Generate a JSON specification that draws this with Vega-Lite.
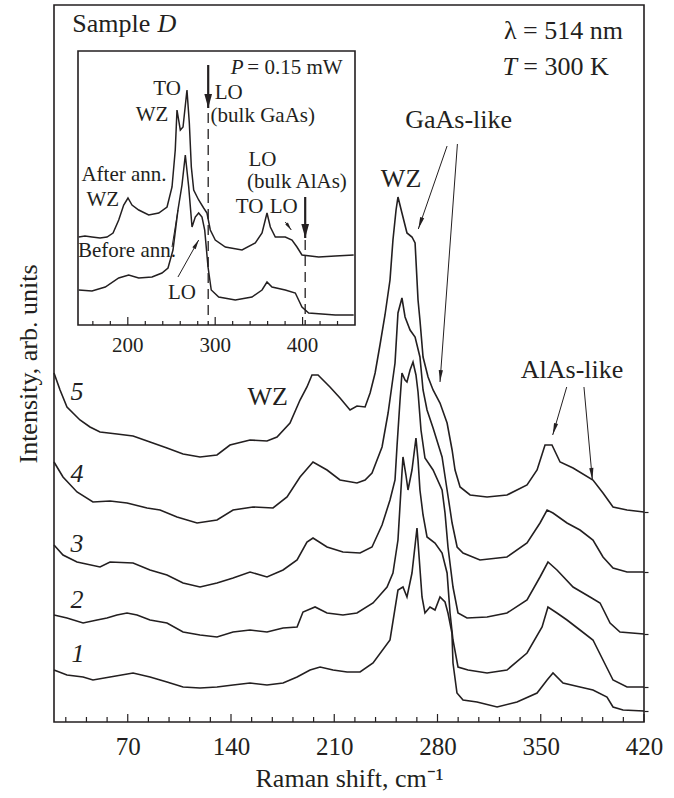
{
"$schema": "https://vega.github.io/schema/vega-lite/v6.json",
"width": 590, "height": 717,
"autosize": "none",
"padding": {"left": 54, "top": 5, "right": 30, "bottom": 76},
"background": "white",
"config": {
  "font": "Liberation Serif",
  "view": {"stroke": "#231f20", "strokeWidth": 1.6},
  "axis": {"labelFont": "Liberation Serif", "titleFont": "Liberation Serif", "labelColor": "#231f20", "titleColor": "#231f20", "tickColor": "#231f20", "domainColor": "#231f20", "titleFontWeight": "normal", "grid": false}
},
"datasets": {
  "spectra": [
    {"curve":"5","shift":20,"intensity":349},{"curve":"5","shift":24.1,"intensity":332},{"curve":"5","shift":28.8,"intensity":315},{"curve":"5","shift":37.6,"intensity":302},{"curve":"5","shift":44.4,"intensity":295},{"curve":"5","shift":51.2,"intensity":290},{"curve":"5","shift":62.7,"intensity":288},{"curve":"5","shift":73.6,"intensity":286},{"curve":"5","shift":85.1,"intensity":280},{"curve":"5","shift":96.6,"intensity":274},{"curve":"5","shift":107.5,"intensity":268},{"curve":"5","shift":119,"intensity":265},{"curve":"5","shift":130.5,"intensity":267},{"curve":"5","shift":139.3,"intensity":277},{"curve":"5","shift":152.9,"intensity":282},{"curve":"5","shift":164.4,"intensity":281},{"curve":"5","shift":171.2,"intensity":285},{"curve":"5","shift":180,"intensity":299},{"curve":"5","shift":186.8,"intensity":322},{"curve":"5","shift":191.5,"intensity":335},{"curve":"5","shift":194.9,"intensity":347},{"curve":"5","shift":199,"intensity":347},{"curve":"5","shift":207.1,"intensity":335},{"curve":"5","shift":213.9,"intensity":324},{"curve":"5","shift":220.7,"intensity":312},{"curve":"5","shift":225.4,"intensity":316},{"curve":"5","shift":230.9,"intensity":315},{"curve":"5","shift":234.3,"intensity":329},{"curve":"5","shift":237.7,"intensity":349},{"curve":"5","shift":241,"intensity":377},{"curve":"5","shift":244.4,"intensity":407},{"curve":"5","shift":247.8,"intensity":442},{"curve":"5","shift":249.8,"intensity":482},{"curve":"5","shift":251.9,"intensity":512},{"curve":"5","shift":253.2,"intensity":525},{"curve":"5","shift":255.9,"intensity":509},{"curve":"5","shift":259.3,"intensity":489},{"curve":"5","shift":262.7,"intensity":485},{"curve":"5","shift":264.8,"intensity":479},{"curve":"5","shift":266.8,"intensity":422},{"curve":"5","shift":268.1,"intensity":402},{"curve":"5","shift":270.2,"intensity":365},{"curve":"5","shift":273.6,"intensity":345},{"curve":"5","shift":277,"intensity":332},{"curve":"5","shift":281.7,"intensity":319},{"curve":"5","shift":286.5,"intensity":299},{"curve":"5","shift":289.9,"intensity":272},{"curve":"5","shift":291.9,"intensity":252},{"curve":"5","shift":295.3,"intensity":235},{"curve":"5","shift":302.1,"intensity":227},{"curve":"5","shift":313.6,"intensity":225},{"curve":"5","shift":327.1,"intensity":227},{"curve":"5","shift":340.7,"intensity":237},{"curve":"5","shift":347.5,"intensity":252},{"curve":"5","shift":352.9,"intensity":277},{"curve":"5","shift":357.6,"intensity":277},{"curve":"5","shift":363.1,"intensity":260},{"curve":"5","shift":371.9,"intensity":254},{"curve":"5","shift":385.4,"intensity":242},{"curve":"5","shift":392.2,"intensity":229},{"curve":"5","shift":399,"intensity":215},{"curve":"5","shift":408.5,"intensity":212},{"curve":"5","shift":420,"intensity":210},
    {"curve":"4","shift":20,"intensity":260},{"curve":"4","shift":26.1,"intensity":245},{"curve":"4","shift":35.6,"intensity":230},{"curve":"4","shift":46.4,"intensity":220},{"curve":"4","shift":58,"intensity":221},{"curve":"4","shift":69.5,"intensity":219},{"curve":"4","shift":83.1,"intensity":214},{"curve":"4","shift":91.9,"intensity":212},{"curve":"4","shift":103.4,"intensity":205},{"curve":"4","shift":117,"intensity":199},{"curve":"4","shift":130.5,"intensity":202},{"curve":"4","shift":141.4,"intensity":212},{"curve":"4","shift":154.9,"intensity":215},{"curve":"4","shift":168.5,"intensity":214},{"curve":"4","shift":178,"intensity":225},{"curve":"4","shift":186.8,"intensity":245},{"curve":"4","shift":195.6,"intensity":260},{"curve":"4","shift":205.1,"intensity":252},{"curve":"4","shift":213.9,"intensity":242},{"curve":"4","shift":225.4,"intensity":239},{"curve":"4","shift":230.9,"intensity":242},{"curve":"4","shift":235.6,"intensity":249},{"curve":"4","shift":242.4,"intensity":275},{"curve":"4","shift":246.5,"intensity":309},{"curve":"4","shift":251.2,"intensity":359},{"curve":"4","shift":253.2,"intensity":409},{"curve":"4","shift":255.9,"intensity":424},{"curve":"4","shift":258,"intensity":405},{"curve":"4","shift":261.4,"intensity":392},{"curve":"4","shift":264.8,"intensity":385},{"curve":"4","shift":268.1,"intensity":365},{"curve":"4","shift":270.2,"intensity":332},{"curve":"4","shift":272.9,"intensity":312},{"curve":"4","shift":277,"intensity":294},{"curve":"4","shift":283.1,"intensity":265},{"curve":"4","shift":286.5,"intensity":232},{"curve":"4","shift":289.9,"intensity":199},{"curve":"4","shift":293.3,"intensity":175},{"curve":"4","shift":297.3,"intensity":169},{"curve":"4","shift":308.8,"intensity":162},{"curve":"4","shift":327.1,"intensity":165},{"curve":"4","shift":340.7,"intensity":179},{"curve":"4","shift":349.5,"intensity":199},{"curve":"4","shift":354.3,"intensity":212},{"curve":"4","shift":358.3,"intensity":209},{"curve":"4","shift":367.8,"intensity":199},{"curve":"4","shift":376.6,"intensity":192},{"curve":"4","shift":385.4,"intensity":182},{"curve":"4","shift":392.2,"intensity":165},{"curve":"4","shift":399,"intensity":154},{"curve":"4","shift":408.5,"intensity":150},{"curve":"4","shift":420,"intensity":150},
    {"curve":"3","shift":20,"intensity":177},{"curve":"3","shift":26.1,"intensity":167},{"curve":"3","shift":35.6,"intensity":160},{"curve":"3","shift":51.2,"intensity":155},{"curve":"3","shift":58,"intensity":160},{"curve":"3","shift":73.6,"intensity":159},{"curve":"3","shift":85.1,"intensity":152},{"curve":"3","shift":96.6,"intensity":147},{"curve":"3","shift":107.5,"intensity":139},{"curve":"3","shift":119,"intensity":135},{"curve":"3","shift":130.5,"intensity":139},{"curve":"3","shift":141.4,"intensity":144},{"curve":"3","shift":152.9,"intensity":150},{"curve":"3","shift":164.4,"intensity":145},{"curve":"3","shift":175.3,"intensity":152},{"curve":"3","shift":184.8,"intensity":162},{"curve":"3","shift":191.5,"intensity":180},{"curve":"3","shift":195.6,"intensity":184},{"curve":"3","shift":205.1,"intensity":175},{"curve":"3","shift":215.9,"intensity":170},{"curve":"3","shift":227.5,"intensity":169},{"curve":"3","shift":235.6,"intensity":175},{"curve":"3","shift":242.4,"intensity":197},{"curve":"3","shift":247.8,"intensity":222},{"curve":"3","shift":251.2,"intensity":242},{"curve":"3","shift":252.6,"intensity":277},{"curve":"3","shift":254.6,"intensity":322},{"curve":"3","shift":255.9,"intensity":349},{"curve":"3","shift":258,"intensity":342},{"curve":"3","shift":259.3,"intensity":340},{"curve":"3","shift":261.4,"intensity":352},{"curve":"3","shift":263.4,"intensity":360},{"curve":"3","shift":265.4,"intensity":347},{"curve":"3","shift":266.8,"intensity":330},{"curve":"3","shift":268.8,"intensity":292},{"curve":"3","shift":271.5,"intensity":264},{"curve":"3","shift":277,"intensity":252},{"curve":"3","shift":283.1,"intensity":232},{"curve":"3","shift":285.1,"intensity":209},{"curve":"3","shift":287.1,"intensity":175},{"curve":"3","shift":290.5,"intensity":135},{"curve":"3","shift":293.9,"intensity":109},{"curve":"3","shift":300,"intensity":104},{"curve":"3","shift":313.6,"intensity":105},{"curve":"3","shift":327.1,"intensity":109},{"curve":"3","shift":340.7,"intensity":122},{"curve":"3","shift":349.5,"intensity":145},{"curve":"3","shift":354.9,"intensity":160},{"curve":"3","shift":361,"intensity":152},{"curve":"3","shift":371.9,"intensity":135},{"curve":"3","shift":383.4,"intensity":125},{"curve":"3","shift":390.2,"intensity":119},{"curve":"3","shift":397,"intensity":99},{"curve":"3","shift":403.7,"intensity":90},{"curve":"3","shift":420,"intensity":88},
    {"curve":"2","shift":20,"intensity":107},{"curve":"2","shift":28.8,"intensity":104},{"curve":"2","shift":39.7,"intensity":99},{"curve":"2","shift":49.2,"intensity":102},{"curve":"2","shift":55.9,"intensity":104},{"curve":"2","shift":62.7,"intensity":107},{"curve":"2","shift":69.5,"intensity":109},{"curve":"2","shift":76.3,"intensity":107},{"curve":"2","shift":85.1,"intensity":102},{"curve":"2","shift":96.6,"intensity":99},{"curve":"2","shift":107.5,"intensity":90},{"curve":"2","shift":119,"intensity":87},{"curve":"2","shift":130.5,"intensity":85},{"curve":"2","shift":141.4,"intensity":90},{"curve":"2","shift":152.9,"intensity":92},{"curve":"2","shift":164.4,"intensity":90},{"curve":"2","shift":175.3,"intensity":94},{"curve":"2","shift":184.8,"intensity":95},{"curve":"2","shift":188.8,"intensity":110},{"curve":"2","shift":197,"intensity":115},{"curve":"2","shift":205.1,"intensity":109},{"curve":"2","shift":215.9,"intensity":107},{"curve":"2","shift":225.4,"intensity":109},{"curve":"2","shift":236.3,"intensity":119},{"curve":"2","shift":245.8,"intensity":135},{"curve":"2","shift":249.8,"intensity":149},{"curve":"2","shift":253.2,"intensity":182},{"curve":"2","shift":255.9,"intensity":249},{"curve":"2","shift":256.6,"intensity":265},{"curve":"2","shift":258.6,"intensity":247},{"curve":"2","shift":260,"intensity":232},{"curve":"2","shift":262.7,"intensity":252},{"curve":"2","shift":265.4,"intensity":284},{"curve":"2","shift":266.8,"intensity":262},{"curve":"2","shift":268.1,"intensity":232},{"curve":"2","shift":270.2,"intensity":207},{"curve":"2","shift":272.9,"intensity":185},{"curve":"2","shift":278.3,"intensity":179},{"curve":"2","shift":283.1,"intensity":169},{"curve":"2","shift":286.5,"intensity":149},{"curve":"2","shift":288.5,"intensity":109},{"curve":"2","shift":290.5,"intensity":82},{"curve":"2","shift":293.9,"intensity":55},{"curve":"2","shift":300.7,"intensity":52},{"curve":"2","shift":313.6,"intensity":49},{"curve":"2","shift":327.1,"intensity":52},{"curve":"2","shift":340.7,"intensity":69},{"curve":"2","shift":350.9,"intensity":95},{"curve":"2","shift":354.9,"intensity":115},{"curve":"2","shift":361,"intensity":109},{"curve":"2","shift":367.8,"intensity":102},{"curve":"2","shift":376.6,"intensity":92},{"curve":"2","shift":385.4,"intensity":82},{"curve":"2","shift":392.2,"intensity":62},{"curve":"2","shift":399,"intensity":42},{"curve":"2","shift":408.5,"intensity":35},{"curve":"2","shift":420,"intensity":35},
    {"curve":"1","shift":20,"intensity":52},{"curve":"1","shift":28.8,"intensity":47},{"curve":"1","shift":39.7,"intensity":45},{"curve":"1","shift":46.4,"intensity":42},{"curve":"1","shift":58,"intensity":45},{"curve":"1","shift":73.6,"intensity":49},{"curve":"1","shift":85.1,"intensity":45},{"curve":"1","shift":96.6,"intensity":40},{"curve":"1","shift":107.5,"intensity":35},{"curve":"1","shift":119,"intensity":34},{"curve":"1","shift":130.5,"intensity":35},{"curve":"1","shift":141.4,"intensity":37},{"curve":"1","shift":152.9,"intensity":39},{"curve":"1","shift":164.4,"intensity":37},{"curve":"1","shift":175.3,"intensity":39},{"curve":"1","shift":184.8,"intensity":45},{"curve":"1","shift":193.6,"intensity":52},{"curve":"1","shift":200.4,"intensity":55},{"curve":"1","shift":209.2,"intensity":52},{"curve":"1","shift":218.7,"intensity":50},{"curve":"1","shift":227.5,"intensity":50},{"curve":"1","shift":236.3,"intensity":59},{"curve":"1","shift":247.8,"intensity":82},{"curve":"1","shift":253.2,"intensity":132},{"curve":"1","shift":256.6,"intensity":135},{"curve":"1","shift":259.3,"intensity":125},{"curve":"1","shift":262.7,"intensity":149},{"curve":"1","shift":266.1,"intensity":194},{"curve":"1","shift":269.5,"intensity":125},{"curve":"1","shift":271.5,"intensity":109},{"curve":"1","shift":274.9,"intensity":115},{"curve":"1","shift":278.3,"intensity":112},{"curve":"1","shift":281.7,"intensity":125},{"curve":"1","shift":285.1,"intensity":120},{"curve":"1","shift":287.1,"intensity":109},{"curve":"1","shift":289.8,"intensity":89},{"curve":"1","shift":290.5,"intensity":59},{"curve":"1","shift":293.2,"intensity":29},{"curve":"1","shift":297.3,"intensity":22},{"curve":"1","shift":306.8,"intensity":20},{"curve":"1","shift":320.4,"intensity":15},{"curve":"1","shift":333.9,"intensity":20},{"curve":"1","shift":347.5,"intensity":29},{"curve":"1","shift":354.3,"intensity":42},{"curve":"1","shift":358.3,"intensity":49},{"curve":"1","shift":365.1,"intensity":39},{"curve":"1","shift":376.6,"intensity":35},{"curve":"1","shift":385.4,"intensity":32},{"curve":"1","shift":394.9,"intensity":25},{"curve":"1","shift":399,"intensity":15},{"curve":"1","shift":405.8,"intensity":12},{"curve":"1","shift":420,"intensity":11}
  ],
  "insetSpectra": [
    {"state":"after","shift":143.8,"intensity":88},{"state":"after","shift":151,"intensity":89},{"state":"after","shift":159,"intensity":88},{"state":"after","shift":168.2,"intensity":87},{"state":"after","shift":176.2,"intensity":88},{"state":"after","shift":183.1,"intensity":92},{"state":"after","shift":189.6,"intensity":105},{"state":"after","shift":195.3,"intensity":120},{"state":"after","shift":200.2,"intensity":127},{"state":"after","shift":204.8,"intensity":120},{"state":"after","shift":212.5,"intensity":115},{"state":"after","shift":223.9,"intensity":110},{"state":"after","shift":235.4,"intensity":112},{"state":"after","shift":244.9,"intensity":118},{"state":"after","shift":250.6,"intensity":138},{"state":"after","shift":254.3,"intensity":175},{"state":"after","shift":256.3,"intensity":215},{"state":"after","shift":260.1,"intensity":195},{"state":"after","shift":263.2,"intensity":198},{"state":"after","shift":267.7,"intensity":235},{"state":"after","shift":270.4,"intensity":202},{"state":"after","shift":272.7,"intensity":158},{"state":"after","shift":275.4,"intensity":135},{"state":"after","shift":281.1,"intensity":125},{"state":"after","shift":286.8,"intensity":117},{"state":"after","shift":290.6,"intensity":112},{"state":"after","shift":294.4,"intensity":95},{"state":"after","shift":300.1,"intensity":85},{"state":"after","shift":311.6,"intensity":78},{"state":"after","shift":330.7,"intensity":75},{"state":"after","shift":345.9,"intensity":82},{"state":"after","shift":353.6,"intensity":92},{"state":"after","shift":359.3,"intensity":112},{"state":"after","shift":363.1,"intensity":98},{"state":"after","shift":368.8,"intensity":88},{"state":"after","shift":380.2,"intensity":88},{"state":"after","shift":387.9,"intensity":85},{"state":"after","shift":393.6,"intensity":78},{"state":"after","shift":399.3,"intensity":70},{"state":"after","shift":418.5,"intensity":68},{"state":"after","shift":437.4,"intensity":69},{"state":"after","shift":458.5,"intensity":70},
    {"state":"before","shift":143.8,"intensity":35},{"state":"before","shift":159,"intensity":34},{"state":"before","shift":174.2,"intensity":38},{"state":"before","shift":189.6,"intensity":47},{"state":"before","shift":201,"intensity":50},{"state":"before","shift":212.5,"intensity":47},{"state":"before","shift":227.7,"intensity":48},{"state":"before","shift":239.1,"intensity":52},{"state":"before","shift":246,"intensity":57},{"state":"before","shift":251.7,"intensity":75},{"state":"before","shift":257.4,"intensity":115},{"state":"before","shift":262,"intensity":140},{"state":"before","shift":265.8,"intensity":170},{"state":"before","shift":269.7,"intensity":138},{"state":"before","shift":273.5,"intensity":98},{"state":"before","shift":277.2,"intensity":108},{"state":"before","shift":281.1,"intensity":112},{"state":"before","shift":284.9,"intensity":108},{"state":"before","shift":288,"intensity":95},{"state":"before","shift":291.8,"intensity":58},{"state":"before","shift":295.5,"intensity":35},{"state":"before","shift":304,"intensity":28},{"state":"before","shift":323,"intensity":25},{"state":"before","shift":342.1,"intensity":28},{"state":"before","shift":353.6,"intensity":35},{"state":"before","shift":359.3,"intensity":43},{"state":"before","shift":365,"intensity":38},{"state":"before","shift":380.2,"intensity":35},{"state":"before","shift":391.7,"intensity":32},{"state":"before","shift":399.3,"intensity":18},{"state":"before","shift":407,"intensity":12},{"state":"before","shift":437.4,"intensity":10},{"state":"before","shift":458.5,"intensity":10}
  ],
  "mainMajorTicks": [{"shift":70},{"shift":140},{"shift":210},{"shift":280},{"shift":350},{"shift":420}],
  "mainMinorTicks": [{"shift":28},{"shift":42},{"shift":56},{"shift":84},{"shift":98},{"shift":112},{"shift":126},{"shift":154},{"shift":168},{"shift":182},{"shift":196},{"shift":224},{"shift":238},{"shift":252},{"shift":266},{"shift":294},{"shift":308},{"shift":322},{"shift":336},{"shift":364},{"shift":378},{"shift":392},{"shift":406}],
  "insetMajorTicks": [{"shift":200,"label":"200"},{"shift":300,"label":"300"},{"shift":400,"label":"400"}],
  "insetMinorTicks": [{"shift":160},{"shift":180},{"shift":220},{"shift":240},{"shift":260},{"shift":280},{"shift":320},{"shift":340},{"shift":360},{"shift":380},{"shift":420},{"shift":440}],
  "mainArrows": [
    {"id":"g1","shift":286.5,"intensity":576,"shift2":267,"intensity2":493},
    {"id":"g2","shift":293.5,"intensity":578,"shift2":281.7,"intensity2":340},
    {"id":"a1","shift":367.6,"intensity":335,"shift2":358.1,"intensity2":287},
    {"id":"a2","shift":379.3,"intensity":335,"shift2":385,"intensity2":242}
  ],
  "insetArrows": [
    {"id":"lo1","shift":257.4,"intensity":48,"shift2":281.1,"intensity2":85},
    {"id":"lo2","shift":380.2,"intensity":103,"shift2":387.1,"intensity2":95},
    {"id":"ba","shift":250.6,"intensity":78,"shift2":257.4,"intensity2":115},
    {"id":"ga","shift":292,"intensity":260,"shift2":292,"intensity2":217},
    {"id":"al","shift":403,"intensity":128,"shift2":403,"intensity2":87}
  ],
  "insetDashes": [
    {"shift":292,"intensity":212,"intensity2":0},
    {"shift":403,"intensity":85,"intensity2":0}
  ],
  "insetFrame": [{"shift":143,"shift2":460,"intensity":0,"intensity2":274}],
  "mainText": [
    {"label":"WZ","shift":164.8,"intensity":317},
    {"label":"WZ","shift":255.3,"intensity":535},
    {"label":"GaAs-like","shift":294.3,"intensity":594},
    {"label":"AlAs-like","shift":371.2,"intensity":344},
    {"label":"Sample","shift":58.8,"intensity":690},
    {"label":"λ = 514 nm","shift":365.4,"intensity":683},
    {"label":"= 300 K","shift":367.1,"intensity":647}
  ],
  "mainItalic": [
    {"label":"D","shift":96.6,"intensity":690},
    {"label":"T","shift":329,"intensity":647},
    {"label":"5","shift":35.6,"intensity":322},
    {"label":"4","shift":35.6,"intensity":240},
    {"label":"3","shift":35.6,"intensity":170},
    {"label":"2","shift":35.6,"intensity":114},
    {"label":"1","shift":36.2,"intensity":60}
  ],
  "insetText": [
    {"label":"= 0.15 mW","shift":391.3,"intensity":251},
    {"label":"TO","shift":244.9,"intensity":230},
    {"label":"WZ","shift":227.7,"intensity":204},
    {"label":"LO","shift":315.5,"intensity":226},
    {"label":"(bulk GaAs)","shift":354.5,"intensity":203},
    {"label":"After ann.","shift":195.6,"intensity":144},
    {"label":"WZ","shift":171.4,"intensity":119},
    {"label":"LO","shift":354.1,"intensity":159},
    {"label":"(bulk AlAs)","shift":393.6,"intensity":137},
    {"label":"TO","shift":339.3,"intensity":112},
    {"label":"LO","shift":378.4,"intensity":112},
    {"label":"Before ann.","shift":199.1,"intensity":68},
    {"label":"LO","shift":262,"intensity":26}
  ],
  "insetItalic": [
    {"label":"P","shift":325,"intensity":251}
  ]
},
"layer": [
  {
    "layer": [
      {
        "data": {"name": "spectra"},
        "mark": {"type": "line", "stroke": "#231f20", "strokeWidth": 1.6},
        "encoding": {
          "x": {"field": "shift", "type": "quantitative", "scale": {"domain": [20, 420], "nice": false, "zero": false},
            "axis": {"values": [70, 140, 210, 280, 350, 420],
              "ticks": false, "domain": false, "labelFontSize": 25, "labelPadding": 12, "labelFlush": false, "labelOverlap": false,
              "title": "Raman shift, cm⁻¹", "titleFontSize": 26, "titleBaseline": "alphabetic", "titleY": 64, "zindex": 1}},
          "y": {"field": "intensity", "type": "quantitative", "scale": {"domain": [0, 717], "nice": false, "zero": false},
            "axis": {"orient": "left", "ticks": false, "labels": false, "domain": false, "title": "Intensity, arb. units", "titleFontSize": 26, "titleX": -18, "titleBaseline": "alphabetic"}},
          "detail": {"field": "curve"}
        }
      },
      {
        "data": {"name": "mainMajorTicks"},
        "mark": {"type": "rule", "stroke": "#231f20", "strokeWidth": 1.2},
        "encoding": {
          "x": {"field": "shift", "type": "quantitative", "scale": {"domain": [20, 420], "nice": false, "zero": false}, "axis": null},
          "y": {"datum": 0, "type": "quantitative", "scale": {"domain": [0, 717], "nice": false, "zero": false}, "axis": null},
          "y2": {"datum": 8}
        }
      },
      {
        "data": {"name": "mainMinorTicks"},
        "mark": {"type": "rule", "stroke": "#231f20", "strokeWidth": 1.2},
        "encoding": {
          "x": {"field": "shift", "type": "quantitative", "scale": {"domain": [20, 420], "nice": false, "zero": false}, "axis": null},
          "y": {"datum": 0, "type": "quantitative", "scale": {"domain": [0, 717], "nice": false, "zero": false}, "axis": null},
          "y2": {"datum": 5}
        }
      },
      {
        "data": {"name": "mainArrows"},
        "mark": {"type": "rule", "stroke": "#231f20", "strokeWidth": 1},
        "encoding": {
          "x": {"field": "shift", "type": "quantitative", "scale": {"domain": [20, 420], "nice": false, "zero": false}, "axis": null},
          "y": {"field": "intensity", "type": "quantitative", "scale": {"domain": [0, 717], "nice": false, "zero": false}, "axis": null},
          "x2": {"field": "shift2"}, "y2": {"field": "intensity2"}
        }
      },
      {
        "data": {"name": "mainArrows"},
        "transform": [{"filter": "datum.id === 'g1'"}],
        "mark": {"type": "point", "shape": "M0,0L0.35,2L-0.35,2Z", "angle": 198.7, "size": 144, "filled": true, "fill": "#231f20", "strokeWidth": 0, "opacity": 1},
        "encoding": {
          "x": {"field": "shift2", "type": "quantitative", "scale": {"domain": [20, 420], "nice": false, "zero": false}, "axis": null},
          "y": {"field": "intensity2", "type": "quantitative", "scale": {"domain": [0, 717], "nice": false, "zero": false}, "axis": null}
        }
      },
      {
        "data": {"name": "mainArrows"},
        "transform": [{"filter": "datum.id === 'g2'"}],
        "mark": {"type": "point", "shape": "M0,0L0.35,2L-0.35,2Z", "angle": 184, "size": 144, "filled": true, "fill": "#231f20", "strokeWidth": 0, "opacity": 1},
        "encoding": {
          "x": {"field": "shift2", "type": "quantitative", "scale": {"domain": [20, 420], "nice": false, "zero": false}, "axis": null},
          "y": {"field": "intensity2", "type": "quantitative", "scale": {"domain": [0, 717], "nice": false, "zero": false}, "axis": null}
        }
      },
      {
        "data": {"name": "mainArrows"},
        "transform": [{"filter": "datum.id === 'a1'"}],
        "mark": {"type": "point", "shape": "M0,0L0.35,2L-0.35,2Z", "angle": 196.3, "size": 144, "filled": true, "fill": "#231f20", "strokeWidth": 0, "opacity": 1},
        "encoding": {
          "x": {"field": "shift2", "type": "quantitative", "scale": {"domain": [20, 420], "nice": false, "zero": false}, "axis": null},
          "y": {"field": "intensity2", "type": "quantitative", "scale": {"domain": [0, 717], "nice": false, "zero": false}, "axis": null}
        }
      },
      {
        "data": {"name": "mainArrows"},
        "transform": [{"filter": "datum.id === 'a2'"}],
        "mark": {"type": "point", "shape": "M0,0L0.35,2L-0.35,2Z", "angle": 174.9, "size": 144, "filled": true, "fill": "#231f20", "strokeWidth": 0, "opacity": 1},
        "encoding": {
          "x": {"field": "shift2", "type": "quantitative", "scale": {"domain": [20, 420], "nice": false, "zero": false}, "axis": null},
          "y": {"field": "intensity2", "type": "quantitative", "scale": {"domain": [0, 717], "nice": false, "zero": false}, "axis": null}
        }
      },
      {
        "data": {"name": "mainText"},
        "mark": {"type": "text", "font": "Liberation Serif", "fontSize": 26, "fill": "#231f20", "align": "center", "baseline": "alphabetic"},
        "encoding": {
          "x": {"field": "shift", "type": "quantitative", "scale": {"domain": [20, 420], "nice": false, "zero": false}, "axis": null},
          "y": {"field": "intensity", "type": "quantitative", "scale": {"domain": [0, 717], "nice": false, "zero": false},
            "axis": {"orient": "right", "values": [11, 35, 88, 150, 210], "tickSize": 4, "tickWidth": 1.2, "labels": false, "domain": false, "title": null}},
          "text": {"field": "label"}
        }
      },
      {
        "data": {"name": "mainItalic"},
        "mark": {"type": "text", "font": "Liberation Serif", "fontSize": 26, "fontStyle": "italic", "fill": "#231f20", "align": "center", "baseline": "alphabetic"},
        "encoding": {
          "x": {"field": "shift", "type": "quantitative", "scale": {"domain": [20, 420], "nice": false, "zero": false}, "axis": null},
          "y": {"field": "intensity", "type": "quantitative", "scale": {"domain": [0, 717], "nice": false, "zero": false}, "axis": null},
          "text": {"field": "label"}
        }
      }
    ],
    "resolve": {"axis": {"x": "independent", "y": "independent"}}
  },
  {
    "layer": [
      {
        "data": {"name": "insetFrame"},
        "mark": {"type": "rect", "fill": null, "fillOpacity": 0, "stroke": "#231f20", "strokeWidth": 1.6},
        "encoding": {
          "x": {"field": "shift", "type": "quantitative", "scale": {"domain": [143, 460], "range": [24, 301], "nice": false, "zero": false}, "axis": null},
          "x2": {"field": "shift2"},
          "y": {"field": "intensity", "type": "quantitative", "scale": {"domain": [0, 274], "range": [320, 46], "nice": false, "zero": false}, "axis": null},
          "y2": {"field": "intensity2"}
        }
      },
      {
        "data": {"name": "insetMajorTicks"},
        "mark": {"type": "rule", "stroke": "#231f20", "strokeWidth": 1.2},
        "encoding": {
          "x": {"field": "shift", "type": "quantitative", "scale": {"domain": [143, 460], "range": [24, 301], "nice": false, "zero": false}, "axis": null},
          "y": {"datum": 0, "type": "quantitative", "scale": {"domain": [0, 274], "range": [320, 46], "nice": false, "zero": false}, "axis": null},
          "y2": {"datum": 8}
        }
      },
      {
        "data": {"name": "insetMinorTicks"},
        "mark": {"type": "rule", "stroke": "#231f20", "strokeWidth": 1.2},
        "encoding": {
          "x": {"field": "shift", "type": "quantitative", "scale": {"domain": [143, 460], "range": [24, 301], "nice": false, "zero": false}, "axis": null},
          "y": {"datum": 0, "type": "quantitative", "scale": {"domain": [0, 274], "range": [320, 46], "nice": false, "zero": false}, "axis": null},
          "y2": {"datum": 4}
        }
      },
      {
        "data": {"name": "insetMajorTicks"},
        "mark": {"type": "text", "font": "Liberation Serif", "fontSize": 21, "fill": "#231f20", "align": "center", "baseline": "alphabetic"},
        "encoding": {
          "x": {"field": "shift", "type": "quantitative", "scale": {"domain": [143, 460], "range": [24, 301], "nice": false, "zero": false}, "axis": null},
          "y": {"datum": -27, "type": "quantitative", "scale": {"domain": [0, 274], "range": [320, 46], "nice": false, "zero": false}, "axis": null},
          "text": {"field": "label"}
        }
      },
      {
        "data": {"name": "insetSpectra"},
        "mark": {"type": "line", "stroke": "#231f20", "strokeWidth": 1.5},
        "encoding": {
          "x": {"field": "shift", "type": "quantitative", "scale": {"domain": [143, 460], "range": [24, 301], "nice": false, "zero": false}, "axis": null},
          "y": {"field": "intensity", "type": "quantitative", "scale": {"domain": [0, 274], "range": [320, 46], "nice": false, "zero": false}, "axis": null},
          "detail": {"field": "state"}
        }
      },
      {
        "data": {"name": "insetDashes"},
        "mark": {"type": "rule", "stroke": "#231f20", "strokeWidth": 1.3, "strokeDash": [10, 6]},
        "encoding": {
          "x": {"field": "shift", "type": "quantitative", "scale": {"domain": [143, 460], "range": [24, 301], "nice": false, "zero": false}, "axis": null},
          "y": {"field": "intensity", "type": "quantitative", "scale": {"domain": [0, 274], "range": [320, 46], "nice": false, "zero": false}, "axis": null},
          "y2": {"field": "intensity2"}
        }
      },
      {
        "data": {"name": "insetArrows"},
        "transform": [{"filter": "datum.id === 'lo1' || datum.id === 'lo2' || datum.id === 'ba'"}],
        "mark": {"type": "rule", "stroke": "#231f20", "strokeWidth": 1},
        "encoding": {
          "x": {"field": "shift", "type": "quantitative", "scale": {"domain": [143, 460], "range": [24, 301], "nice": false, "zero": false}, "axis": null},
          "y": {"field": "intensity", "type": "quantitative", "scale": {"domain": [0, 274], "range": [320, 46], "nice": false, "zero": false}, "axis": null},
          "x2": {"field": "shift2"}, "y2": {"field": "intensity2"}
        }
      },
      {
        "data": {"name": "insetArrows"},
        "transform": [{"filter": "datum.id === 'ga' || datum.id === 'al'"}],
        "mark": {"type": "rule", "stroke": "#231f20", "strokeWidth": 2.2},
        "encoding": {
          "x": {"field": "shift", "type": "quantitative", "scale": {"domain": [143, 460], "range": [24, 301], "nice": false, "zero": false}, "axis": null},
          "y": {"field": "intensity", "type": "quantitative", "scale": {"domain": [0, 274], "range": [320, 46], "nice": false, "zero": false}, "axis": null},
          "x2": {"field": "shift2"}, "y2": {"field": "intensity2"}
        }
      },
      {
        "data": {"name": "insetArrows"},
        "transform": [{"filter": "datum.id === 'ga' || datum.id === 'al'"}],
        "mark": {"type": "point", "shape": "M0,0L0.55,2L-0.55,2Z", "angle": 180, "size": 196, "filled": true, "fill": "#231f20", "strokeWidth": 0, "opacity": 1},
        "encoding": {
          "x": {"field": "shift2", "type": "quantitative", "scale": {"domain": [143, 460], "range": [24, 301], "nice": false, "zero": false}, "axis": null},
          "y": {"field": "intensity2", "type": "quantitative", "scale": {"domain": [0, 274], "range": [320, 46], "nice": false, "zero": false}, "axis": null}
        }
      },
      {
        "data": {"name": "insetArrows"},
        "transform": [{"filter": "datum.id === 'lo1'"}],
        "mark": {"type": "point", "shape": "M0,0L0.4,2L-0.4,2Z", "angle": 29.2, "size": 90, "filled": true, "fill": "#231f20", "strokeWidth": 0, "opacity": 1},
        "encoding": {
          "x": {"field": "shift2", "type": "quantitative", "scale": {"domain": [143, 460], "range": [24, 301], "nice": false, "zero": false}, "axis": null},
          "y": {"field": "intensity2", "type": "quantitative", "scale": {"domain": [0, 274], "range": [320, 46], "nice": false, "zero": false}, "axis": null}
        }
      },
      {
        "data": {"name": "insetArrows"},
        "transform": [{"filter": "datum.id === 'lo2'"}],
        "mark": {"type": "point", "shape": "M0,0L0.4,2L-0.4,2Z", "angle": 144, "size": 64, "filled": true, "fill": "#231f20", "strokeWidth": 0, "opacity": 1},
        "encoding": {
          "x": {"field": "shift2", "type": "quantitative", "scale": {"domain": [143, 460], "range": [24, 301], "nice": false, "zero": false}, "axis": null},
          "y": {"field": "intensity2", "type": "quantitative", "scale": {"domain": [0, 274], "range": [320, 46], "nice": false, "zero": false}, "axis": null}
        }
      },
      {
        "data": {"name": "insetText"},
        "mark": {"type": "text", "font": "Liberation Serif", "fontSize": 21, "fill": "#231f20", "align": "center", "baseline": "alphabetic"},
        "encoding": {
          "x": {"field": "shift", "type": "quantitative", "scale": {"domain": [143, 460], "range": [24, 301], "nice": false, "zero": false}, "axis": null},
          "y": {"field": "intensity", "type": "quantitative", "scale": {"domain": [0, 274], "range": [320, 46], "nice": false, "zero": false}, "axis": null},
          "text": {"field": "label"}
        }
      },
      {
        "data": {"name": "insetItalic"},
        "mark": {"type": "text", "font": "Liberation Serif", "fontSize": 21, "fontStyle": "italic", "fill": "#231f20", "align": "center", "baseline": "alphabetic"},
        "encoding": {
          "x": {"field": "shift", "type": "quantitative", "scale": {"domain": [143, 460], "range": [24, 301], "nice": false, "zero": false}, "axis": null},
          "y": {"field": "intensity", "type": "quantitative", "scale": {"domain": [0, 274], "range": [320, 46], "nice": false, "zero": false}, "axis": null},
          "text": {"field": "label"}
        }
      }
    ]
  }
],
"resolve": {"scale": {"x": "independent", "y": "independent"}}
}
